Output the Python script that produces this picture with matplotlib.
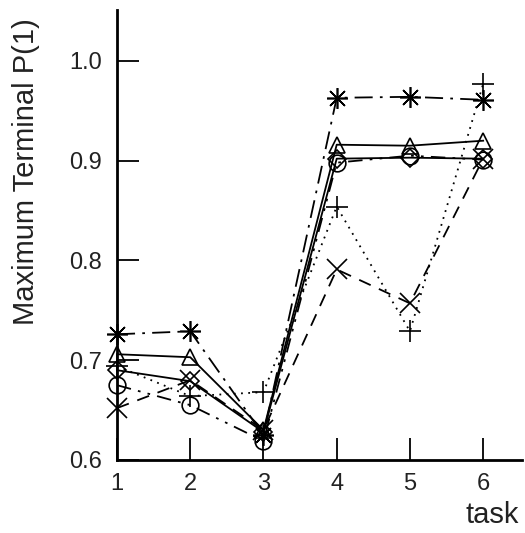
import matplotlib
matplotlib.use("Agg")
from matplotlib import pyplot as plt

# task numbers
tasks = [1, 2, 3, 4, 5, 6]

# maximum terminal P(1), one list per curve
star_vals = [0.726, 0.729, 0.625, 0.963, 0.964, 0.961]
tri_vals = [0.706, 0.703, 0.630, 0.916, 0.915, 0.920]
dia_vals = [0.690, 0.679, 0.628, 0.902, 0.903, 0.902]
plus_vals = [0.694, 0.664, 0.668, 0.854, 0.729, 0.977]
circ_vals = [0.675, 0.655, 0.619, 0.898, 0.905, 0.901]
x_vals = [0.652, 0.680, 0.630, 0.791, 0.757, 0.902]

y_ticks = [0.6, 0.7, 0.8, 0.9, 1.0]
y_tick_labels = ["0.6", "0.7", "0.8", "0.9", "1.0"]

plt.rcParams['font.family'] = ['Liberation Sans', 'DejaVu Sans']

fig = plt.figure(figsize=(5.25, 5.33), dpi=100)
ax = fig.add_axes([117 / 525, 1 - 460 / 533, 405 / 525, 450 / 533])

common = dict(color="black", linewidth=1.3, markerfacecolor="none",
              markeredgecolor="black", markeredgewidth=1.2, clip_on=False)

# 星号 点划线
ax.plot(tasks, star_vals, linestyle=(0, (10, 4, 1.5, 4)), marker=(8, 2, 0),
        markersize=15, **common)
# 三角 实线
ax.plot(tasks, tri_vals, linestyle="-", marker="^", markersize=12, **common)
# 菱形 实线
ax.plot(tasks, dia_vals, linestyle="-", marker="D", markersize=9, **common)
# 加号 点线
ax.plot(tasks, plus_vals, linestyle=(0, (1, 3)), marker="+", markersize=16, **common)
# 圆圈 点划点线
ax.plot(tasks, circ_vals, linestyle=(0, (8, 4, 1.5, 4, 1.5, 4)), marker="o",
        markersize=12, **common)
# 叉号 虚线
ax.plot(tasks, x_vals, linestyle=(0, (7, 5)), marker="x", markersize=14, **common)

ax.set_xlim(1, 6.53)
ax.set_ylim(0.6, 1.051)

ax.set_xticks(tasks)
ax.set_xticklabels([str(t) for t in tasks])
ax.set_yticks(y_ticks)
ax.set_yticklabels(y_tick_labels)

ax.tick_params(axis="both", direction="in", length=16, width=1.3,
               labelsize=17, color="black", labelcolor="#222222")
ax.tick_params(axis="y", pad=11)
ax.tick_params(axis="x", pad=9)

for side in ["top", "right"]:
    ax.spines[side].set_visible(False)
for side in ["left", "bottom"]:
    ax.spines[side].set_linewidth(2)

ax.patch.set_visible(False)

# 坐标轴描述
fig.text(26 / 525, 1 - 172 / 533, "Maximum Terminal P(1)", rotation=90,
         ha="center", va="center", fontsize=21, color="#222222")
fig.text(492 / 525, 1 - 515 / 533, "task", ha="center", va="center",
         fontsize=21, color="#222222")

plt.savefig("out.png", dpi=100)
